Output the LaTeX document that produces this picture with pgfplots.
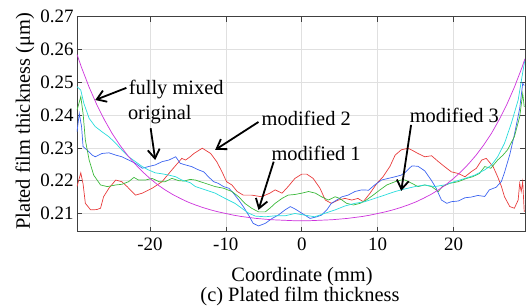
\documentclass[border=0pt]{standalone}
\usepackage{fontspec}
\setmainfont{Liberation Serif}
\usepackage{pgfplots}
\pgfplotsset{compat=1.18}
\usetikzlibrary{arrows.meta}
\definecolor{cred}{RGB}{232,60,60}
\definecolor{cblue}{RGB}{60,100,240}
\definecolor{cgreen}{RGB}{60,185,60}
\definecolor{ccyan}{RGB}{40,220,220}
\definecolor{cmag}{RGB}{205,50,220}
\newcommand{\ticksize}{\fontsize{19}{21}\selectfont}
\newcommand{\labsize}{\fontsize{20.5}{23}\selectfont}
\begin{document}
\begin{tikzpicture}
\begin{axis}[
  scale only axis, width=448bp, height=215bp,
  xmin=-29.6, xmax=29.4, ymin=0.20445, ymax=0.27,
  xtick={-20,-10,0,10,20},
  ytick={0.21,0.22,0.23,0.24,0.25,0.26,0.27},
  yticklabel style={/pgf/number format/fixed, /pgf/number format/precision=2, /pgf/number format/fixed zerofill},
  /pgf/number format/assume math mode=true,
  ticklabel style={font=\ticksize},
  xticklabel style={yshift=-3bp},
  grid=major, grid style={black!12, line width=0.6bp},
  tick align=inside, tick pos=both, major tick length=5bp,
  axis line style={black!75, line width=0.7bp},
  tick style={black!75, line width=0.6bp},
  clip mode=individual,
  every axis plot/.append style={line width=0.7bp},
]
\coordinate (SW) at (rel axis cs:0,0);
\addplot[cred] coordinates {(-29.6,0.2182) (-29.1,0.2224) (-28.8,0.2190) (-28.5,0.2131) (-27.8,0.2111) (-27.0,0.2112) (-26.5,0.2116) (-26.1,0.2151) (-25.4,0.2177) (-24.5,0.2202) (-23.7,0.2197) (-23.0,0.2182) (-21.9,0.2156) (-21.0,0.2162) (-19.7,0.2177) (-18.4,0.2197) (-17.1,0.2233) (-15.8,0.2268) (-15.3,0.2263) (-14.7,0.2273) (-14.2,0.2283) (-13.1,0.2299) (-12.0,0.2283) (-11.2,0.2258) (-10.5,0.2227) (-9.9,0.2197) (-9.2,0.2187) (-8.5,0.2167) (-7.7,0.2156) (-6.6,0.2156) (-5.3,0.2151) (-4.2,0.2162) (-3.5,0.2172) (-2.6,0.2162) (-1.8,0.2182) (-0.9,0.2207) (0.0,0.2220) (0.66,0.2220) (1.5,0.2207) (2.4,0.2177) (3.1,0.2141) (3.9,0.2131) (4.8,0.2141) (5.7,0.2146) (6.6,0.2141) (7.4,0.2146) (8.1,0.2136) (9.0,0.2162) (9.9,0.2192) (10.7,0.2212) (11.6,0.2243) (12.3,0.2278) (13.1,0.2294) (14.0,0.2299) (14.6,0.2292) (15.3,0.2283) (16.2,0.2273) (17.1,0.2276) (18.0,0.2258) (18.8,0.2243) (19.7,0.2227) (20.6,0.2222) (21.5,0.2212) (22.3,0.2227) (23.0,0.2238) (23.7,0.2263) (24.3,0.2268) (25.2,0.2243) (25.8,0.2212) (26.3,0.2182) (26.7,0.2151) (27.4,0.2121) (28.0,0.2116) (28.5,0.2141) (28.7,0.2192) (28.9,0.2167) (29.1,0.2197) (29.3,0.2105)};
\addplot[cblue] coordinates {(-29.6,0.2349) (-29.3,0.2405) (-29.0,0.2365) (-28.8,0.2304) (-28.3,0.2294) (-27.6,0.2278) (-27.2,0.2273) (-26.3,0.2283) (-25.4,0.2285) (-24.5,0.2278) (-23.7,0.2273) (-22.8,0.2263) (-21.9,0.2253) (-21.0,0.2238) (-20.2,0.2243) (-19.3,0.2248) (-18.4,0.2258) (-17.5,0.2263) (-16.6,0.2273) (-16.0,0.2253) (-15.3,0.2248) (-14.5,0.2243) (-13.6,0.2233) (-12.9,0.2227) (-12.3,0.2212) (-11.6,0.2197) (-11.0,0.2192) (-10.3,0.2182) (-9.6,0.2177) (-9.0,0.2162) (-8.3,0.2141) (-7.7,0.2121) (-7.0,0.2095) (-6.4,0.2070) (-5.7,0.2062) (-4.8,0.2070) (-3.9,0.2085) (-3.1,0.2095) (-2.2,0.2111) (-1.5,0.2121) (-0.9,0.2114) (0.0,0.2101) (1.1,0.2085) (2.0,0.2090) (2.6,0.2095) (3.3,0.2111) (3.9,0.2131) (4.6,0.2141) (5.3,0.2151) (6.1,0.2156) (7.0,0.2167) (7.9,0.2172) (8.8,0.2171) (9.6,0.2187) (10.5,0.2202) (11.4,0.2207) (12.3,0.2212) (13.1,0.2217) (13.6,0.2225) (14.5,0.2245) (15.3,0.2244) (16.2,0.2230) (17.1,0.2200) (17.7,0.2177) (18.4,0.2141) (19.1,0.2131) (19.7,0.2136) (20.6,0.2138) (21.5,0.2148) (22.3,0.2150) (23.2,0.2155) (24.1,0.2152) (24.7,0.2172) (25.6,0.2180) (26.3,0.2198) (26.7,0.2225) (27.4,0.2280) (28.0,0.2340) (28.7,0.2420) (29.1,0.2497) (29.3,0.2490)};
\addplot[cgreen] coordinates {(-29.6,0.2415) (-29.1,0.2456) (-28.8,0.2405) (-28.5,0.2324) (-28.0,0.2263) (-27.4,0.2217) (-26.5,0.2187) (-25.6,0.2182) (-24.5,0.2187) (-23.7,0.2189) (-22.8,0.2197) (-22.1,0.2210) (-21.5,0.2202) (-20.6,0.2202) (-19.7,0.2207) (-18.8,0.2197) (-18.0,0.2197) (-17.1,0.2207) (-16.2,0.2200) (-15.5,0.2199) (-14.7,0.2204) (-14.0,0.2202) (-12.7,0.2192) (-11.4,0.2182) (-10.3,0.2177) (-9.2,0.2167) (-8.3,0.2151) (-7.5,0.2131) (-6.6,0.2116) (-5.7,0.2105) (-4.8,0.2105) (-4.2,0.2116) (-3.5,0.2131) (-2.6,0.2146) (-1.8,0.2156) (-0.9,0.2158) (0.0,0.2162) (0.9,0.2167) (1.8,0.2162) (2.6,0.2151) (3.5,0.2141) (4.4,0.2151) (5.0,0.2146) (5.9,0.2131) (6.8,0.2126) (7.7,0.2131) (8.5,0.2141) (9.4,0.2156) (10.3,0.2172) (11.2,0.2187) (12.3,0.2197) (13.1,0.2202) (13.6,0.2202) (14.5,0.2192) (15.3,0.2182) (16.2,0.2187) (17.1,0.2182) (18.0,0.2167) (18.5,0.2182) (19.5,0.2192) (20.6,0.2197) (21.7,0.2207) (22.5,0.2212) (23.4,0.2222) (24.1,0.2243) (24.9,0.2238) (25.8,0.2263) (26.5,0.2278) (27.1,0.2294) (28.0,0.2334) (28.7,0.2395) (29.1,0.2466) (29.3,0.2425)};
\addplot[ccyan] coordinates {(-29.6,0.2487) (-29.1,0.2476) (-28.7,0.2436) (-28.0,0.2390) (-27.2,0.2365) (-26.3,0.2349) (-25.4,0.2334) (-24.5,0.2314) (-23.7,0.2294) (-22.8,0.2273) (-21.9,0.2258) (-21.0,0.2243) (-20.2,0.2233) (-19.3,0.2224) (-18.4,0.2221) (-17.5,0.2217) (-16.6,0.2212) (-15.8,0.2202) (-14.7,0.2194) (-14.0,0.2182) (-12.7,0.2172) (-11.4,0.2162) (-10.1,0.2146) (-8.8,0.2131) (-7.9,0.2116) (-7.0,0.2101) (-6.1,0.2092) (-4.8,0.2090) (-3.5,0.2093) (-2.2,0.2093) (-0.9,0.2100) (0.4,0.2095) (1.7,0.2090) (3.1,0.2101) (4.4,0.2111) (5.7,0.2123) (7.0,0.2131) (8.3,0.2136) (9.6,0.2146) (10.9,0.2156) (12.3,0.2167) (13.6,0.2175) (14.9,0.2182) (16.2,0.2187) (17.5,0.2182) (18.8,0.2187) (20.1,0.2197) (21.5,0.2207) (22.8,0.2217) (24.1,0.2233) (25.0,0.2248) (25.8,0.2273) (26.7,0.2314) (27.6,0.2375) (28.5,0.2446) (29.1,0.2530) (29.4,0.2570)};
\addplot[cmag] coordinates {(-29.6,0.2585) (-29,0.2545) (-28,0.2485) (-27,0.2432) (-26,0.2386) (-25,0.2345) (-24,0.2310) (-23,0.2279) (-22,0.2252) (-21,0.2228) (-20,0.2207) (-19,0.2188) (-18,0.2172) (-17,0.2158) (-16,0.2146) (-15,0.2135) (-14,0.2126) (-13,0.2118) (-12,0.2111) (-11,0.2105) (-10,0.2100) (-9,0.2095) (-8,0.2091) (-7,0.2088) (-6,0.2085) (-5,0.2083) (-4,0.2081) (-3,0.2080) (-2,0.2079) (-1,0.2078) (0,0.2078) (1,0.2078) (2,0.2079) (3,0.2080) (4,0.2081) (5,0.2083) (6,0.2085) (7,0.2088) (8,0.2091) (9,0.2095) (10,0.2100) (11,0.2105) (12,0.2111) (13,0.2118) (14,0.2126) (15,0.2135) (16,0.2146) (17,0.2158) (18,0.2172) (19,0.2188) (20,0.2207) (21,0.2228) (22,0.2252) (23,0.2279) (24,0.2310) (25,0.2345) (26,0.2386) (27,0.2432) (28,0.2485) (29,0.2545) (29.4,0.2572)};
% annotations
\tikzset{arr/.style={-{Straight Barb[length=9bp,width=12bp,line width=1.8bp]}, line width=1.8bp, black}}
\node[font=\labsize, anchor=west, inner sep=0pt] at (axis cs:-22.8,0.2477) {fully mixed};
\draw[arr] (axis cs:-23.1,0.2483) -- (axis cs:-27.2,0.2446);
\node[font=\labsize, inner sep=0pt] at (axis cs:-18.7,0.2400) {original};
\draw[arr] (axis cs:-19.9,0.2360) -- (axis cs:-19.3,0.2263);
\node[font=\labsize, anchor=west, inner sep=0pt] at (axis cs:-5.3,0.2391) {modified 2};
\draw[arr] (axis cs:-5.7,0.2379) -- (axis cs:-11.4,0.2294);
\node[font=\labsize, anchor=west, inner sep=0pt] at (axis cs:-4.0,0.2284) {modified 1};
\draw[arr] (axis cs:-3.7,0.2258) -- (axis cs:-5.7,0.2111);
\node[font=\labsize, anchor=west, inner sep=0pt] at (axis cs:14.2,0.2400) {modified 3};
\draw[arr] (axis cs:14.4,0.2370) -- (axis cs:13.1,0.2169);
\end{axis}
\node[font=\labsize, rotate=90, anchor=base, inner sep=0pt] at ([shift={(-47bp,110.2bp)}]SW) {Plated film thickness (μm)};
\node[font=\labsize, anchor=base, inner sep=0pt] at ([shift={(225bp,-50bp)}]SW) {Coordinate (mm)};
\node[font=\labsize, anchor=base, inner sep=0pt] at ([shift={(223bp,-70bp)}]SW) {(c) Plated film thickness};
\pgfresetboundingbox
\path[use as bounding box] ([shift={(-77bp,-75.3bp)}]SW) rectangle ([shift={(449bp,231.7bp)}]SW);
\end{tikzpicture}
\end{document}
